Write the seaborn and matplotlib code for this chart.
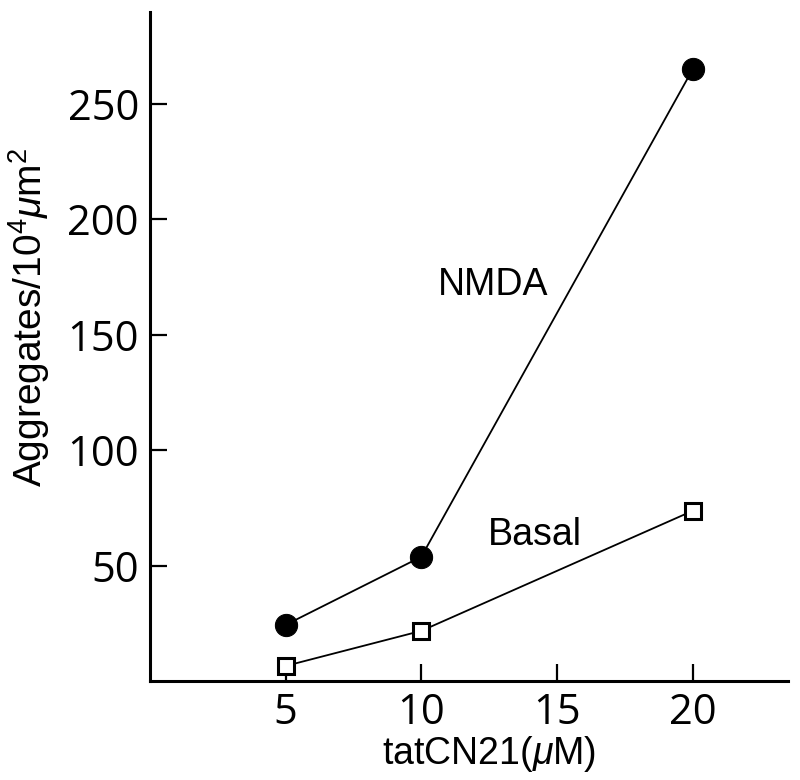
import numpy as np
import pandas as pd
import matplotlib
matplotlib.use("Agg")
import matplotlib.pyplot as plt
import seaborn as sns

# values
conc = [5, 10, 20]
nmda = [24.3, 53.8, 265.0]
basal = [6.5, 21.7, 73.7]
x_ticks = [5, 10, 15, 20]
y_ticks = [50, 100, 150, 200, 250]

df = pd.DataFrame({
    "conc": conc * 2,
    "value": nmda + basal,
    "cond": ["NMDA"] * 3 + ["Basal"] * 3,
})

sns.set_style("ticks")
plt.rcParams.update({
    "font.family": ["Liberation Sans", "DejaVu Sans"],
    "mathtext.fontset": "custom",
    "mathtext.rm": "Liberation Sans",
    "mathtext.it": "Liberation Sans:italic",
    "text.color": "black",
    "axes.labelcolor": "black",
    "axes.edgecolor": "black",
    "xtick.color": "black",
    "ytick.color": "black",
})

fig = plt.figure(figsize=(8, 7.8), dpi=100)
ax = fig.add_axes([0.1875, 0.127, 0.797, 0.858])

sns.lineplot(data=df[df.cond == "NMDA"], x="conc", y="value", ax=ax,
             color="black", lw=1.3, marker="o", markersize=16,
             markerfacecolor="black", markeredgecolor="black")
sns.lineplot(data=df[df.cond == "Basal"], x="conc", y="value", ax=ax,
             color="black", lw=1.3, marker="s", markersize=12,
             markerfacecolor="white", markeredgecolor="black", markeredgewidth=2.2)

ax.text(12.65, 171.5, "NMDA", fontsize=27, ha="center", va="center")
ax.text(14.2, 63.3, "Basal", fontsize=27, ha="center", va="center")

ax.set_xlim(0, 23.5)
ax.set_ylim(0, 290)
ax.set_xticks(x_ticks)
ax.set_yticks(y_ticks)
ax.tick_params(direction="in", length=12, width=1.6, labelsize=30, pad=8)
for lab in ax.get_xticklabels() + ax.get_yticklabels():
    lab.set_family("Open Sans")
for s in ["left", "bottom"]:
    ax.spines[s].set_linewidth(2.2)
sns.despine(ax=ax)

ax.set_xlabel(r"tatCN21($\mu$M)", fontsize=27)
ax.set_ylabel(r"Aggregates/10$^4$$\mu$m$^2$", fontsize=28)
ax.xaxis.set_label_coords(0.532, -0.079)
ax.yaxis.set_label_coords(-0.153, 0.543)

fig.savefig("out.png", dpi=100, facecolor="white")
